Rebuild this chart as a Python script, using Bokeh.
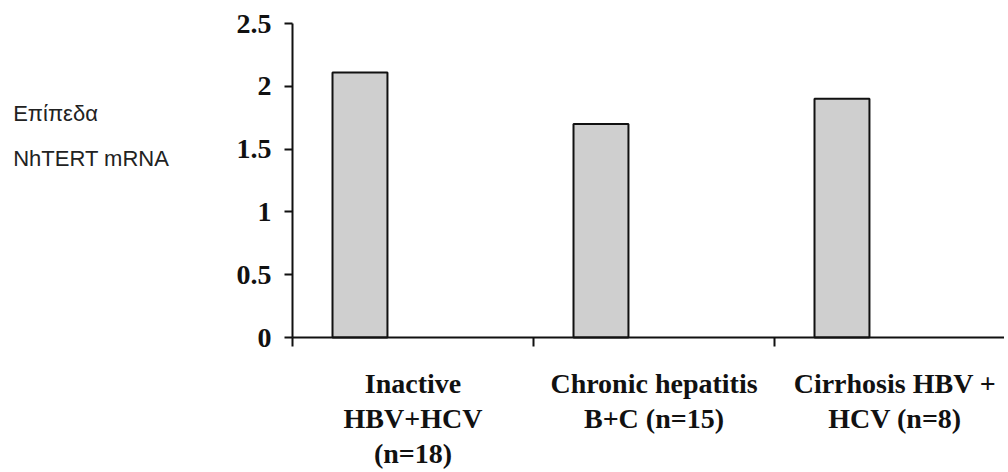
from bokeh.plotting import figure
from bokeh.models import ColumnDataSource, FixedTicker, LabelSet, Label
from bokeh.embed import file_html
from bokeh.resources import INLINE

# ---- data ----
categories = ["Inactive\nHBV+HCV\n(n=18)", "Chronic hepatitis\nB+C (n=15)", "Cirrhosis HBV +\nHCV (n=8)"]
values = [2.11, 1.70, 1.90]
y_ticks = [0, 0.5, 1, 1.5, 2, 2.5]
y_tick_labels = ["0", "0.5", "1", "1.5", "2", "2.5"]
y_label_lines = ["Επίπεδα", "NhTERT mRNA"]

# ---- layout (pixels) ----
W, H = 1004, 470
AX_X, AX_Y0, AX_Y25 = 292, 337, 23      # pixel position of y-axis, y=0 and y=2.5
CAT_PX = 241.0                           # pixels per category
Y_PER_PX = 2.5 / (AX_Y0 - AX_Y25)
BAR_OFFSET = 0.28
BAR_WIDTH = 0.228

p = figure(width=W, height=H, output_backend="svg", toolbar_location=None,
           x_range=(-AX_X / CAT_PX, (W - AX_X) / CAT_PX),
           y_range=(-(H - AX_Y0) * Y_PER_PX, AX_Y0 * Y_PER_PX),
           min_border=0, min_border_left=0, min_border_right=0,
           min_border_top=0, min_border_bottom=0)
p.outline_line_color = None
p.xgrid.visible = False
p.ygrid.visible = False
p.background_fill_color = "white"
p.border_fill_color = "white"

idx = list(range(len(categories)))
src = ColumnDataSource(dict(x=[i + BAR_OFFSET for i in idx], top=values))
p.vbar(x="x", top="top", width=BAR_WIDTH, bottom=0, source=src,
       fill_color="#cfcfcf", line_color="#111111", line_width=2)

# y axis (fixed at x=0)
ya = p.yaxis[0]
ya.fixed_location = 0
ya.bounds = (0, 2.5)
ya.ticker = FixedTicker(ticks=y_ticks)
ya.major_label_overrides = {t: l for t, l in zip(y_ticks, y_tick_labels)}
ya.minor_tick_line_color = None
ya.major_tick_in = 0
ya.major_tick_out = 8
ya.major_tick_line_width = 2
ya.major_tick_line_color = "#111111"
ya.axis_line_width = 2
ya.axis_line_color = "#111111"
ya.major_label_text_font = "Liberation Serif"
ya.major_label_text_font_style = "bold"
ya.major_label_text_font_size = "28px"
ya.major_label_text_color = "#111111"
ya.major_label_standoff = 13

# x axis (fixed at y=0)
xa = p.xaxis[0]
xa.fixed_location = 0
xa.bounds = (0, (W - AX_X) / CAT_PX)
xa.ticker = FixedTicker(ticks=[float(i) for i in idx])
xa.major_label_text_font_size = "0px"
xa.major_label_text_alpha = 0
xa.minor_tick_line_color = None
xa.major_tick_in = 0
xa.major_tick_out = 9
xa.major_tick_line_width = 2
xa.major_tick_line_color = "#111111"
xa.axis_line_width = 2
xa.axis_line_color = "#111111"

# category labels (multi-line, drawn line by line); screen y measured from the bottom
lx, ly, lt = [], [], []
base_first = H - 392
line_gap = 35
for i, cat in enumerate(categories):
    for j, line in enumerate(cat.split("\n")):
        lx.append(i + 0.5)
        ly.append(base_first - j * line_gap)
        lt.append(line)
lsrc = ColumnDataSource(dict(x=lx, y=ly, t=lt))
p.add_layout(LabelSet(x="x", y="y", text="t", source=lsrc, y_units="screen",
                      text_align="center", text_baseline="alphabetic",
                      text_font="Liberation Serif", text_font_style="bold",
                      text_font_size="28px", text_color="#111111"))

# y-axis title: two horizontal lines at far left
for k, line in enumerate(y_label_lines):
    p.add_layout(Label(x=12.7, y=(H - 113) - k * 45, x_units="screen", y_units="screen",
                       text=line, text_font="Liberation Sans", text_font_size="22px",
                       text_color="#222222", text_baseline="alphabetic"))

open("out.html", "w").write(file_html(p, INLINE))
